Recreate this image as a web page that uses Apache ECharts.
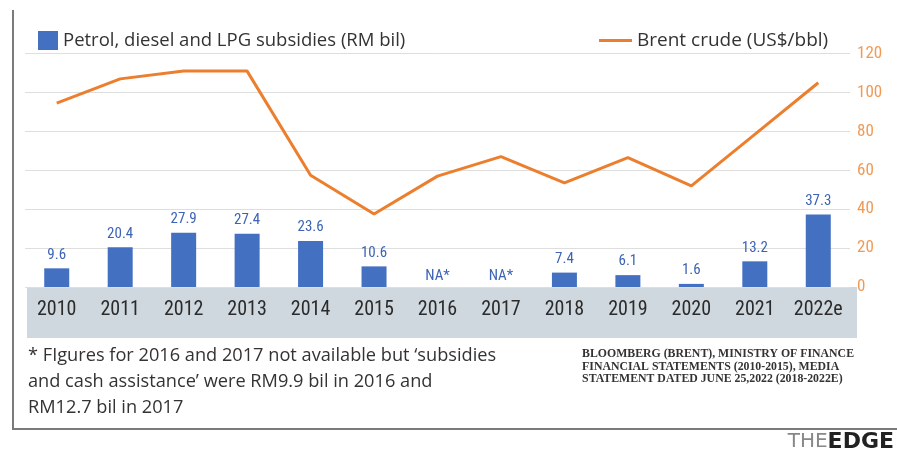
<!DOCTYPE html>
<html>
<head>
<meta charset="utf-8">
<script src="https://cdn.jsdelivr.net/npm/echarts@6/dist/echarts.min.js"></script>
<style>
  html, body { margin: 0; padding: 0; background: #fff; }
  #chart { width: 897px; height: 455px; }
</style>
</head>
<body>
<div id="chart"></div>
<script>
// chart values
const years = ['2010', '2011', '2012', '2013', '2014', '2015', '2016', '2017', '2018', '2019', '2020', '2021', '2022e']
const subsidies = [9.6, 20.4, 27.9, 27.4, 23.6, 10.6, null, null, 7.4, 6.1, 1.6, 13.2, 37.3] // RM bil, null = NA*
const brent = [94.5, 107, 111, 111, 57.5, 37.5, 57, 67, 53.5, 66.5, 52, 78.5, 105] // US$/bbl
const rightTicks = [0, 20, 40, 60, 80, 100, 120]

const narrow = "'Roboto Condensed', 'Arial Narrow', Roboto, sans-serif"
const blue = '#4470c2'
const orange = '#ec7f2e'

const chart = echarts.init(document.getElementById('chart'))

// NA* years get a zero bar with a text label
const barData = subsidies.map(v => v === null
  ? { value: 0, label: { formatter: 'NA*', distance: 3 } }
  : v)

const option = {
  backgroundColor: '#fff',
  animation: false,
  grid: { left: 25, right: 47, top: 53.6, bottom: 168 },
  legend: [
    {
      data: ['Petrol, diesel and LPG subsidies (RM bil)'],
      left: 33, top: 26,
      icon: 'rect', itemWidth: 20, itemHeight: 19, itemGap: 7,
      textStyle: { fontFamily: 'Open Sans', fontSize: 18.5, color: '#333' }
    },
    {
      data: ['Brent crude (US$/bbl)'],
      left: 594, top: 26,
      icon: 'rect', itemWidth: 33, itemHeight: 3, itemGap: 6,
      textStyle: { fontFamily: 'Open Sans', fontSize: 19, color: '#333' }
    }
  ],
  xAxis: {
    type: 'category',
    data: years,
    axisLine: { show: false },
    axisTick: { show: false },
    axisLabel: { interval: 0, fontFamily: narrow, fontSize: 20, color: '#2b2b2b', margin: 13 }
  },
  yAxis: {
    type: 'value',
    position: 'right',
    min: rightTicks[0],
    max: rightTicks[rightTicks.length - 1],
    interval: 20,
    axisLine: { show: false },
    axisTick: { show: false },
    axisLabel: { fontFamily: narrow, fontSize: 17, color: '#f09a55', margin: 7 },
    splitLine: { lineStyle: { color: '#dedede', width: 1 } }
  },
  series: [
    {
      name: 'Petrol, diesel and LPG subsidies (RM bil)',
      type: 'bar',
      data: barData,
      barWidth: 25,
      itemStyle: { color: blue },
      label: {
        show: true,
        position: 'top',
        distance: 6,
        fontFamily: narrow,
        fontSize: 15,
        color: '#3d64b4'
      },
      z: 3
    },
    {
      name: 'Brent crude (US$/bbl)',
      type: 'line',
      data: brent,
      symbol: 'none',
      lineStyle: { color: orange, width: 3 },
      itemStyle: { color: orange },
      z: 4
    }
  ],
  graphic: [
    // grey band behind the year labels
    { type: 'rect', z: -1, shape: { x: 27, y: 287, width: 830, height: 51 }, style: { fill: '#cfd8de' } },
    // frame lines
    { type: 'line', shape: { x1: 13, y1: 10, x2: 13, y2: 429 }, style: { stroke: '#7a7a7a', lineWidth: 2 } },
    { type: 'line', shape: { x1: 12, y1: 429, x2: 897, y2: 429 }, style: { stroke: '#7a7a7a', lineWidth: 2 } },
    // footnote
    {
      type: 'text', left: 28, top: 343,
      style: {
        text: "* FIgures for 2016 and 2017 not available but \u2018subsidies\nand cash assistance\u2019 were RM9.9 bil in 2016 and\nRM12.7 bil in 2017",
        fontFamily: 'Open Sans', fontSize: 18.2, lineHeight: 26, fill: '#333'
      }
    },
    // source
    {
      type: 'text', right: 43, top: 348,
      style: {
        text: 'BLOOMBERG (BRENT), MINISTRY OF FINANCE\nFINANCIAL STATEMENTS (2010-2015), MEDIA\nSTATEMENT DATED JUNE 25,2022 (2018-2022E)',
        align: 'right',
        fontFamily: "'Liberation Serif', serif", fontSize: 11.8, fontWeight: 'bold', lineHeight: 12.5, fill: '#333'
      }
    },
    // logo
    {
      type: 'text', right: 3, top: 431,
      style: {
        text: '{a|THE}{b|EDGE}',
        rich: {
          a: { fontFamily: "'DejaVu Sans', sans-serif", fontSize: 20, fill: '#888' },
          b: { fontFamily: "'DejaVu Sans', sans-serif", fontSize: 22, fontWeight: 'bold', fill: '#222' }
        }
      }
    }
  ]
}

chart.setOption(option)
</script>
</body>
</html>
